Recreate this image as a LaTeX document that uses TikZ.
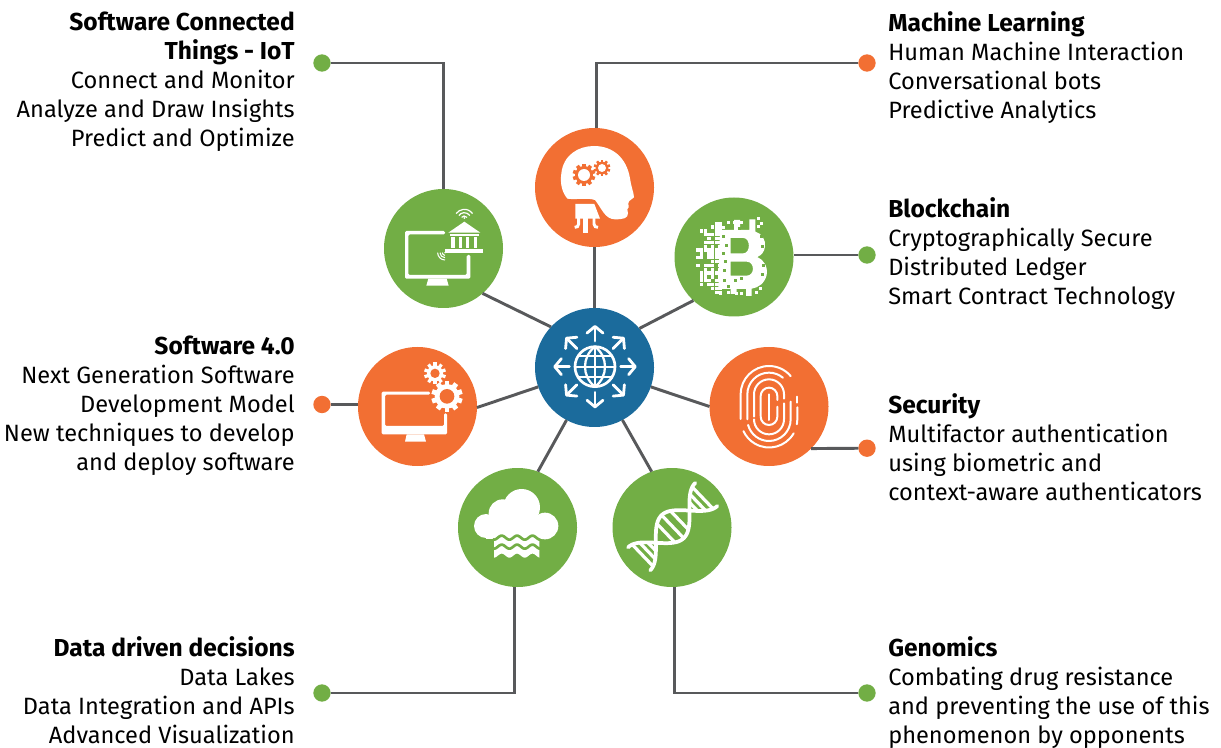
\documentclass[tikz,border=0pt]{standalone}
\usepackage{fontspec}
\setmainfont{Fira Sans}
\usetikzlibrary{arrows.meta}
\definecolor{hubblue}{HTML}{1B6B9C}
\definecolor{techorange}{HTML}{F26F33}
\definecolor{techgreen}{HTML}{72AE45}
\definecolor{linegrey}{HTML}{58595B}
\newcommand{\head}[1]{{\fontsize{18.4}{21.75}\selectfont\bfseries #1}}
\tikzset{
  hubnode/.style={circle, fill=#1, minimum size=89.25pt, inner sep=0pt, outer sep=0pt},
  dotnode/.style={circle, fill=#1, minimum size=13pt, inner sep=0pt, outer sep=0pt},
  link/.style={draw=linegrey, line width=2.2pt},
  lefttext/.style={anchor=north east, align=right, inner sep=0pt, font=\fontsize{17.7}{21.75}\selectfont},
  righttext/.style={anchor=north west, align=left, inner sep=0pt, font=\fontsize{17.7}{21.75}\selectfont},
  zoomed/.style={shift={#1}, x=0.25pt, y=-0.25pt},
  iconline/.style={draw=white, line width=#1, line cap=round}
}
% gear: x, y, body radius, tooth radius, hole radius, gear colour, hole colour
\newcommand{\gearicon}[7]{
  \fill[#6] (#1,#2) circle (#3);
  \foreach \a in {0,36,...,324}
    \fill[#6, shift={(#1,#2)}, rotate=\a] (-0.2*#3,0) rectangle (0.2*#3,#4);
  \fill[#7] (#1,#2) circle (#5);
}
\begin{document}
\begin{tikzpicture}[x=0.75pt, y=-0.75pt]
  \useasboundingbox (0,0) rectangle (1221,748);

  % circles
  \node[hubnode=hubblue] (hub) at (594.5,367.5) {};
  \node[hubnode=techorange] (ml) at (594.5,187.5) {};
  \node[hubnode=techgreen] (iot) at (443.5,248.5) {};
  \node[hubnode=techgreen] (block) at (734,257) {};
  \node[hubnode=techorange] (soft) at (417.5,406.5) {};
  \node[hubnode=techorange] (sec) at (769,406.5) {};
  \node[hubnode=techgreen] (data) at (517.5,527.5) {};
  \node[hubnode=techgreen] (geno) at (672,527.5) {};

  % dots
  \node[dotnode=techgreen] (iotdot) at (322,63) {};
  \node[dotnode=techorange] (mldot) at (867,63) {};
  \node[dotnode=techgreen] (blockdot) at (867,255) {};
  \node[dotnode=techorange] (softdot) at (322,404.5) {};
  \node[dotnode=techorange] (secdot) at (867,448.2) {};
  \node[dotnode=techgreen] (datadot) at (322,693) {};
  \node[dotnode=techgreen] (genodot) at (867,693) {};

  % spokes
  \draw[link] (hub.90) -- (ml.270);
  \draw[link] (hub.137.5) -- (iot.-49.5);
  \draw[link] (hub.41.2) -- (block.227);
  \draw[link] (hub.199) -- (soft.-1.7);
  \draw[link] (hub.341.4) -- (sec.180.8);
  \draw[link] (hub.242.4) -- (data.70.5);
  \draw[link] (hub.298.7) -- (geno.110);

  % leaders
  \draw[link] (iotdot) -| (iot.north);
  \draw[link] (mldot) -| (ml.88.5);
  \draw[link] (blockdot) -- (blockdot -| block.east);
  \draw[link] (softdot) -- (softdot -| soft.west);
  \draw[link] (secdot) -- (sec.-45);
  \draw[link] (datadot) -| (data.267);
  \draw[link] (genodot) -| (geno.272.6);

  % texts
  \node[lefttext] (iottext) at (295,11.5) {\head{Software Connected}\\\head{Things - IoT}\\Connect and Monitor\\Analyze and Draw Insights\\Predict and Optimize};
  \node[righttext] (mltext) at (888,11.5) {\head{Machine Learning}\\Human Machine Interaction\\Conversational bots\\Predictive Analytics};
  \node[righttext] (blocktext) at (888,197.5) {\head{Blockchain}\\Cryptographically Secure\\Distributed Ledger\\Smart Contract Technology};
  \node[lefttext] (softtext) at (295,335.5) {\head{Software 4.0}\\Next Generation Software\\Development Model\\New techniques to develop\\and deploy software};
  \node[righttext] (sectext) at (888,393.5) {\head{Security}\\Multifactor authentication\\using biometric and\\context-aware authenticators};
  \node[lefttext] (datatext) at (295,636.5) {\head{Data driven decisions}\\Data Lakes\\Data Integration and APIs\\Advanced Visualization};
  \node[righttext] (genotext) at (888,636.5) {\head{Genomics}\\Combating drug resistance\\and preventing the use of this\\phenomenon by opponents};

  % hub icon
  \begin{scope}[zoomed={(350,300)}]
    \draw[iconline=2pt] (735,200) circle (60);
    \draw[iconline=1.7pt] (735,140) -- (735,260);
    \draw[iconline=1.7pt] (735,140) .. controls (695,170) and (695,230) .. (735,260);
    \draw[iconline=1.7pt] (735,140) .. controls (775,170) and (775,230) .. (735,260);
    \draw[iconline=1.7pt] (675,200) -- (795,200);
    \draw[iconline=1.7pt] (686,168) -- (784,168);
    \draw[iconline=1.7pt] (686,232) -- (784,232);
    \foreach \a in {0,45,...,315}
      \draw[iconline=2.1pt, rotate around={\a:(735,200)}, -{Straight Barb[length=5pt,width=12pt,round]}] (812,200) -- (860,200);
  \end{scope}

  % head icon
  \begin{scope}[zoomed={(360,120)}]
    \fill[white] (622,236) .. controls (605,215) and (600,190) .. (604,160)
      .. controls (610,105) and (655,78) .. (702,78)
      .. controls (760,78) and (800,115) .. (810,175)
      .. controls (812,195) and (822,220) .. (822,232)
      .. controls (818,240) and (806,238) .. (805,250)
      -- (806,262) -- (802,268) -- (804,280)
      .. controls (804,295) and (790,298) .. (765,298)
      .. controls (735,298) and (725,265) .. (705,240)
      .. controls (680,232) and (650,240) .. (622,236) -- cycle;
    \fill[white] (646,252) -- (703,252) -- (720,296) -- (646,296) -- cycle;
    \fill[white] (670,290) rectangle (684,338);
    \draw[white, line width=2.2pt] (656,292) -- (656,312) .. controls (656,320) and (650,322) .. (644,322);
    \draw[white, line width=2.2pt] (702,292) -- (702,312) .. controls (702,320) and (708,322) .. (714,322);
    \gearicon{672}{165}{27}{34}{18}{techorange}{white}
    \gearicon{726}{144}{19}{25}{12}{techorange}{white}
  \end{scope}

  % iot icon
  \begin{scope}[zoomed={(360,120)}]
    \fill[white, rounded corners=1pt] (135,333) -- (255,333) -- (255,343) -- (145,343) -- (145,465) -- (320,465) -- (320,405) -- (331,405) -- (331,476) -- (135,476) -- cycle;
    \fill[white] (205,476) -- (260,476) -- (266,497) -- (199,497) -- cycle;
    \fill[white] (313,305) -- (361,338) -- (265,338) -- cycle;
    \fill[white] (269,342) rectangle (357,348);
    \fill[white] (255,387) rectangle (369,398);
    \foreach \cx in {279,301,323,346}
      \fill[white] (\cx-5,350) rectangle (\cx+5,385);
    \fill[white] (313,294) circle (3);
    \foreach \r in {10,20,30}
      \draw[white, line width=0.9pt] ({313+\r*cos(35)},{298-\r*sin(35)}) arc (-35:-145:\r);
    \fill[white] (255,398) circle (2.5);
    \foreach \r in {8,15,22}
      \draw[white, line width=0.8pt] (255,398+\r) arc (90:180:\r);
  \end{scope}

  % bitcoin icon
  \begin{scope}[zoomed={(360,120)}]
    \fill[white, even odd rule] (1080,330) -- (1122,330) -- (1122,300) -- (1140,300) -- (1140,330) -- (1168,330) -- (1168,298) -- (1186,298) -- (1186,335)
      .. controls (1205,340) and (1218,360) .. (1215,380)
      .. controls (1213,395) and (1205,405) .. (1192,411)
      .. controls (1212,420) and (1224,440) .. (1220,465)
      .. controls (1214,490) and (1195,503) .. (1175,506)
      -- (1175,528) -- (1158,528) -- (1158,507) -- (1130,507) -- (1130,522) -- (1112,522) -- (1112,507) -- (1075,507) -- cycle
      (1112,354) -- (1150,354) .. controls (1172,354) and (1172,400) .. (1150,400) -- (1112,400) -- cycle
      (1112,425) -- (1160,425) .. controls (1185,425) and (1185,467) .. (1160,467) -- (1112,467) -- cycle;
    \pgfmathsetseed{4207}
    \foreach \i in {0,...,6}
      \foreach \j in {0,...,18} {
        \pgfmathsetmacro{\keep}{rnd < (0.4+0.09*\i) ? 1 : 0}
        \pgfmathsetmacro{\inband}{abs(\j-9) < (7+0.5*\i) ? 1 : 0}
        \ifdim\keep pt>0.5pt \ifdim\inband pt>0.5pt
          \fill[white] (1009+\i*11,305+\j*11.5) rectangle +(10,10);
        \fi\fi
      }
    \foreach \gx/\gy in {1085/345,1095/372,1085/395,1092/420,1088/448,1090/478,1140/472,1122/478,1200/345,1203/375,1205/432,1203/460,1150/318,1100/495,1135/320}
      \fill[techgreen] (\gx,\gy) rectangle +(9,9);
    \foreach \wx/\wy in {1190/292,1200/305,1175/300,1190/315,1140/303,1120/303,1100/303,1085/318,1065/310,1185/512,1198/502,1140/516,1125/516,1100/512,1065/512,1078/516}
      \fill[white] (\wx,\wy) rectangle +(9,9);
  \end{scope}

  % software icon
  \begin{scope}[zoomed={(350,300)}]
    \fill[white, rounded corners=1pt] (95,275) -- (240,275) -- (240,284) -- (105,284) -- (105,378) -- (282,378) -- (282,340) -- (291,340) -- (291,403) -- (95,403) -- cycle;
    \fill[white] (170,403) -- (222,403) -- (228,425) -- (165,425) -- cycle;
    \gearicon{255}{220}{24}{33}{14}{white}{techorange}
    \gearicon{291}{289}{37}{47}{22}{white}{techorange}
  \end{scope}

  % fingerprint icon
  \begin{scope}[zoomed={(350,300)}]
    \tikzset{fingerline/.style={iconline=1.5pt}}
    \draw[fingerline] (1172,357) -- (1172,283) arc (180:320:85);
    \draw[fingerline] (1342,290) -- (1342,308);
    \draw[fingerline] (1342,322) -- (1342,358) arc (0:10:85);
    \draw[fingerline] (1331,400) arc (30:155:85);
    \draw[fingerline] (1192,358) -- (1192,283) arc (180:310:65);
    \draw[fingerline] (1322,305) -- (1322,358) arc (0:165:65);
    \draw[fingerline] (1212,350) -- (1212,283) arc (180:360:45) -- (1302,296);
    \draw[fingerline] (1302,310) -- (1302,358) arc (0:180:45);
    \draw[fingerline] (1232,348) -- (1232,288) arc (180:360:25) -- (1282,300);
    \draw[fingerline] (1282,320) -- (1282,350) arc (0:180:25);
    \draw[fingerline] (1257,283) -- (1257,360);
  \end{scope}

  % cloud icon
  \begin{scope}[zoomed={(450,460)}]
    \fill[white] (108,198) circle (36);
    \fill[white] (158,160) circle (42);
    \fill[white] (215,142) circle (55);
    \fill[white] (285,198) circle (40);
    \fill[white] (108,170) rectangle (285,238);
    \fill[white] plot[domain=132:268, samples=60] (\x,{287+6*cos((\x-132)*7.8)}) -- (268,225) -- (132,225) -- cycle;
    \draw[techgreen, line width=2pt] plot[domain=128:272, samples=60] (\x,{233+6*cos((\x-132)*7.8)});
    \draw[techgreen, line width=2pt] plot[domain=130:270, samples=60] (\x,{260+6*cos((\x-132)*7.8)});
  \end{scope}

  % dna icon
  \begin{scope}[zoomed={(450,460)}]
    \tikzset{helix/.style={iconline=2.8pt}, rung/.style={draw=white, line width=2.4pt}}
    \draw[helix] plot[domain=-140:140, samples=70] ({668+0.72*\x+0.69*48*cos(\x*1.2857)},{200-0.69*\x+0.72*48*cos(\x*1.2857)});
    \draw[helix] plot[domain=-140:140, samples=70] ({668+0.72*\x-0.69*48*cos(\x*1.2857)},{200-0.69*\x-0.72*48*cos(\x*1.2857)});
    \foreach \t in {-125,-105,-87,-28,0,28,87,105,125} {
      \pgfmathsetmacro{\off}{48*cos(\t*1.2857)}
      \draw[rung] ({668+0.72*\t+0.69*\off},{200-0.69*\t+0.72*\off}) -- ({668+0.72*\t-0.69*\off},{200-0.69*\t-0.72*\off});
    }
  \end{scope}
\end{tikzpicture}
\end{document}
